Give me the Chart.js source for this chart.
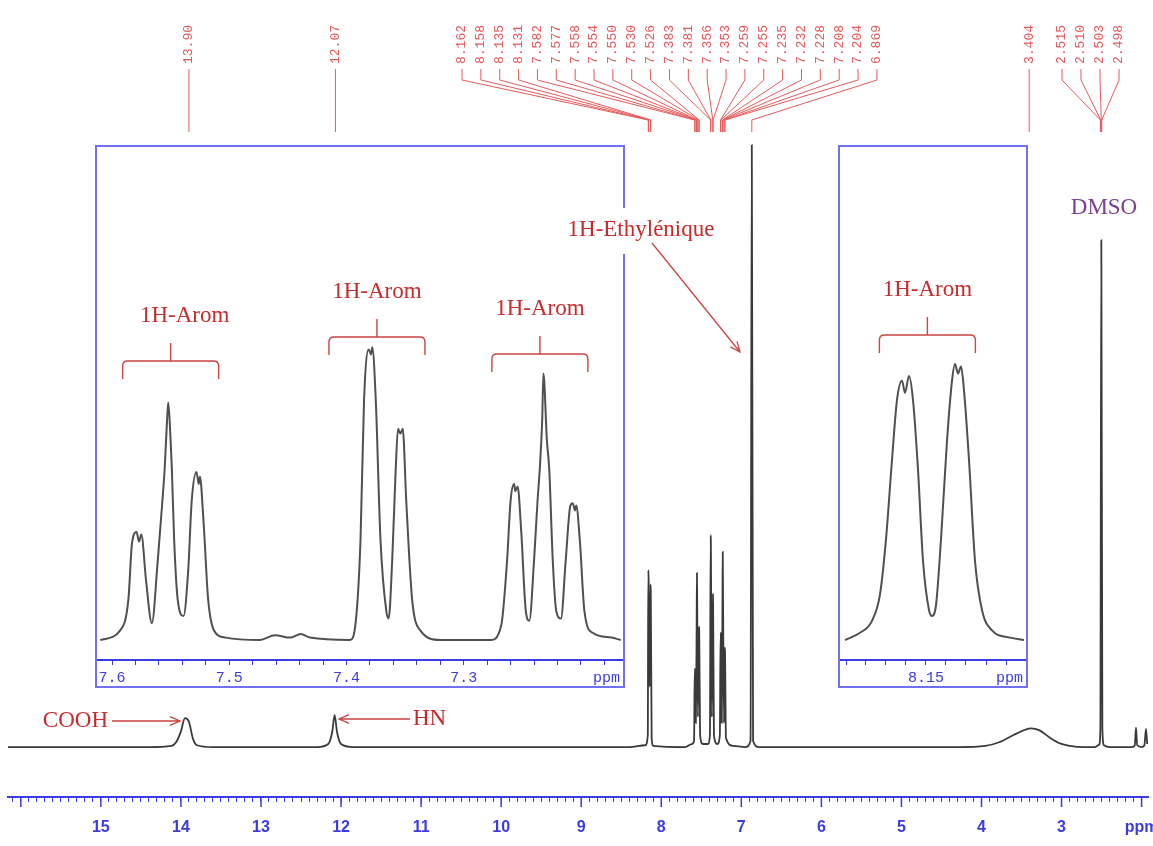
<!DOCTYPE html>
<html lang="fr">
<head>
<meta charset="UTF-8">
<title>Spectre RMN 1H</title>
<script src="https://cdn.jsdelivr.net/npm/chart.js"></script>
<style>
  body { margin: 0; background: #fff; }
  #wrap { position: relative; width: 1153px; height: 846px; }
  #wrap canvas { position: absolute; }
</style>
</head>
<body>
<div id="wrap">
  <canvas id="main" width="1153" height="846" style="left:0;top:0"></canvas>
  <canvas id="zoomA" width="526" height="539" style="left:97px;top:147px"></canvas>
  <canvas id="zoomB" width="186" height="539" style="left:840px;top:147px"></canvas>
</div>

<script>
// full spectrum, ppm / relative intensity
const mainPpm = [16.16, 14.40, 14.12, 14.06, 14.00, 13.95, 13.90, 13.85, 13.80, 13.60,
    12.30, 12.16, 12.11, 12.08, 12.05, 12.00, 11.85,
    8.40, 8.20, 8.168, 8.162, 8.158, 8.146, 8.135, 8.131, 8.12, 8.10,
    7.70, 7.62, 7.590, 7.582, 7.577, 7.568, 7.558, 7.554, 7.550, 7.542, 7.530, 7.526, 7.515, 7.48,
    7.42, 7.392, 7.383, 7.381, 7.368, 7.356, 7.353, 7.342, 7.30,
    7.268, 7.259, 7.255, 7.244, 7.235, 7.232, 7.228, 7.216, 7.208, 7.204, 7.192, 7.10,
    6.95, 6.885, 6.869, 6.853, 6.78,
    4.30, 3.95, 3.78, 3.60, 3.45, 3.38, 3.28, 3.15, 3.02, 2.90, 2.70,
    2.58, 2.53, 2.515, 2.503, 2.490, 2.47, 2.40,
    2.12, 2.085, 2.070, 2.055, 2.00, 1.965, 1.945, 1.93];
const mainInt = [0, 0, 0.2, 0.8, 2.6, 4.8, 4.2, 1.4, 0.3, 0,
    0, 0.5, 2.5, 5.3, 2.5, 0.5, 0,
    0, 0.3, 2, 29.4, 28, 10, 27, 26, 1.5, 0.2,
    0, 0.5, 1, 13, 12.5, 4, 20, 28.9, 21, 5, 20, 19.5, 2, 0.5,
    0.5, 2, 35.2, 34.5, 5, 25.5, 25, 2, 0.5,
    2, 19, 18.5, 4, 25, 32.4, 24, 4, 16.5, 16, 1.5, 0.2,
    0, 1, 100, 1, 0,
    0, 0.2, 0.8, 2, 2.9, 3.1, 2.8, 1.6, 0.6, 0.2, 0,
    0, 0.4, 3, 84.2, 3, 0.3, 0,
    0, 0.3, 3.2, 0.3, 0, 0.3, 3, 0.5];

// expansion 7.61 - 7.17 ppm
const zoomAPpm = [7.610, 7.593, 7.586, 7.583, 7.579, 7.577, 7.575, 7.571, 7.566, 7.561, 7.557, 7.555, 7.553,
    7.552, 7.550, 7.549, 7.547, 7.544, 7.539, 7.535, 7.532, 7.528, 7.526, 7.525, 7.522, 7.518, 7.513, 7.503,
    7.474, 7.461, 7.448, 7.439, 7.431, 7.397, 7.392, 7.388, 7.385, 7.381, 7.379, 7.378, 7.375, 7.371, 7.366,
    7.364, 7.361, 7.358, 7.356, 7.354, 7.352, 7.349, 7.344, 7.337, 7.320, 7.277, 7.268, 7.263, 7.260, 7.257,
    7.256, 7.254, 7.251, 7.247, 7.244, 7.240, 7.237, 7.235, 7.233, 7.232, 7.229, 7.227, 7.224, 7.221, 7.217,
    7.213, 7.209, 7.207, 7.205, 7.204, 7.201, 7.197, 7.190, 7.174, 7.166];
const zoomAInt = [0, 4, 17, 40, 45, 41, 44, 25, 7, 33, 58, 72, 92,
    99, 83, 72, 42, 17, 10, 29, 58, 70, 65, 68, 50, 17, 4, 1,
    0, 2, 1, 2.5, 1, 0, 8, 42, 100, 121, 119, 122, 100, 42, 12,
    9, 33, 71, 88, 86, 88, 58, 17, 4, 0, 0, 6, 33, 58, 65,
    62, 64, 46, 12, 8, 33, 58, 72, 92, 111, 83, 71, 33, 12, 9,
    33, 56, 57, 54, 56, 42, 12, 3, 1, 0];

// expansion 8.19 - 8.10 ppm
const zoomBPpm = [8.1905, 8.183, 8.177, 8.173, 8.170, 8.167, 8.1645, 8.162, 8.1605, 8.1585, 8.1565, 8.154,
    8.1515, 8.1485, 8.147, 8.145, 8.1425, 8.1395, 8.137, 8.1355, 8.134, 8.1325, 8.131, 8.1285, 8.1255,
    8.122, 8.117, 8.108, 8.101];
const zoomBInt = [0, 3, 8, 19, 42, 75, 100, 108, 103, 110, 100, 71,
    33, 12.5, 10, 14.5, 42, 83, 108, 115, 111, 114, 104, 75, 33,
    12.5, 4, 1, 0];

const ppmTicks = [15, 14, 13, 12, 11, 10, 9, 8, 7, 6, 5, 4, 3];
const zoomATicks = ['7.6', '7.5', '7.4', '7.3'];
const zoomBTicks = ['8.15'];

const singleShifts = ['13.90', '12.07', '3.404'];
const aromShifts = ['8.162', '8.158', '8.135', '8.131', '7.582', '7.577', '7.558', '7.554', '7.550',
    '7.530', '7.526', '7.383', '7.381', '7.356', '7.353', '7.259', '7.255', '7.235', '7.232',
    '7.228', '7.208', '7.204', '6.869'];
const dmsoShifts = ['2.515', '2.510', '2.503', '2.498'];

const BLUE = '#3b3be6';
const FRAME = '#7070f0';
const RED = '#c62c2c';
const PINK = '#e65a5a';
const LINE = '#3a3a3a';
const AXIS_FONT = { family: '"Liberation Sans"', size: 16, weight: 'bold', lineHeight: 3.25 };

function pts(xs, ys) {
    return xs.map((x, i) => ({ x: x, y: ys[i] }));
}

function arrow(ctx, x1, y1, x2, y2) {
    const a = Math.atan2(y2 - y1, x2 - x1), h = 11;
    ctx.beginPath();
    ctx.moveTo(x1, y1);
    ctx.lineTo(x2, y2);
    ctx.moveTo(x2 - h * Math.cos(a - 0.4), y2 - h * Math.sin(a - 0.4));
    ctx.lineTo(x2, y2);
    ctx.lineTo(x2 - h * Math.cos(a + 0.4), y2 - h * Math.sin(a + 0.4));
    ctx.stroke();
}

function shiftLabel(ctx, text, lx, x) {
    ctx.save();
    ctx.translate(lx, 64);
    ctx.rotate(-Math.PI / 2);
    ctx.fillText(text, 0, 0);
    ctx.restore();
    ctx.beginPath();
    if (Math.abs(lx - x) < 0.5) {
        ctx.moveTo(lx, 69);
        ctx.lineTo(lx, 132);
    } else {
        ctx.moveTo(lx, 69);
        ctx.lineTo(lx, 80);
        ctx.lineTo(x, 120);
        ctx.lineTo(x, 132);
    }
    ctx.stroke();
}

const mainDecor = {
    id: 'mainDecor',
    afterDraw(chart) {
        const ctx = chart.ctx;
        const xs = chart.scales.x;
        const px = v => xs.getPixelForValue(v);
        const bottom = chart.chartArea.bottom;
        ctx.save();

        // longer ticks on whole ppm, unit at the right end
        ctx.strokeStyle = BLUE;
        ctx.lineWidth = 1.5;
        for (let v = 2; v <= 16; v++) {
            ctx.beginPath();
            ctx.moveTo(px(v), bottom);
            ctx.lineTo(px(v), bottom + 10);
            ctx.stroke();
        }
        ctx.font = 'bold 16px "Liberation Sans"';
        ctx.fillStyle = BLUE;
        ctx.textAlign = 'center';
        ctx.textBaseline = 'middle';
        ctx.fillText('ppm', px(2), bottom + 5 + 26);

        // frames of the expansions
        ctx.strokeStyle = FRAME;
        ctx.lineWidth = 2;
        ctx.strokeRect(96, 146, 528, 541);
        ctx.strokeRect(839, 146, 188, 541);

        // chemical shift labels
        ctx.font = '13px "Liberation Mono"';
        ctx.fillStyle = PINK;
        ctx.strokeStyle = PINK;
        ctx.lineWidth = 1;
        ctx.textAlign = 'left';
        ctx.textBaseline = 'middle';
        singleShifts.forEach(s => shiftLabel(ctx, s, px(+s), px(+s)));
        aromShifts.forEach((s, i) => shiftLabel(ctx, s, 462 + i * 18.86, px(+s)));
        dmsoShifts.forEach((s, i) => shiftLabel(ctx, s, 1062 + i * 19, px(+s)));

        // annotations
        ctx.font = '23px "Liberation Serif"';
        ctx.textBaseline = 'middle';
        const eth = '1H-Ethylénique';
        const w = ctx.measureText(eth).width;
        ctx.fillStyle = '#fff';
        ctx.fillRect(641 - w / 2 - 4, 208, w + 8, 46);
        ctx.fillStyle = RED;
        ctx.textAlign = 'center';
        ctx.fillText(eth, 641, 230);

        ctx.fillStyle = '#7b3f8f';
        ctx.fillText('DMSO', 1104, 208);

        ctx.fillStyle = RED;
        ctx.textAlign = 'right';
        ctx.fillText('COOH', 108, 721);
        ctx.textAlign = 'left';
        ctx.fillText('HN', 413, 719);

        ctx.strokeStyle = '#cc4444';
        ctx.lineWidth = 1.3;
        arrow(ctx, 652, 243, 740, 352);
        arrow(ctx, 112, 721, 180, 721);
        arrow(ctx, 410, 719, 339, 719);
        ctx.restore();
    }
};

new Chart(document.getElementById('main'), {
    type: 'line',
    data: {
        datasets: [{
            data: pts(mainPpm, mainInt),
            borderColor: LINE,
            borderWidth: 1.8,
            pointRadius: 0,
            cubicInterpolationMode: 'monotone'
        }]
    },
    options: {
        responsive: false,
        animation: false,
        events: [],
        layout: { padding: { top: 133, left: 8, right: 5, bottom: 0 } },
        scales: {
            x: {
                type: 'linear',
                reverse: true,
                min: 1.92,
                max: 16.16,
                afterFit: s => { s.height = 49; },
                border: { color: BLUE, width: 2 },
                grid: { drawOnChartArea: false, color: BLUE, tickLength: 5 },
                ticks: {
                    stepSize: 0.1,
                    includeBounds: false,
                    autoSkip: false,
                    maxRotation: 0,
                    padding: 0,
                    color: BLUE,
                    font: AXIS_FONT,
                    callback: v => {
                        const r = Math.round(v);
                        if (Math.abs(v - r) > 1e-6) return '';
                        return ppmTicks.includes(r) ? String(r) : '';
                    }
                }
            },
            y: { display: false, min: -8.3, max: 102 }
        },
        plugins: { legend: { display: false }, tooltip: { enabled: false } }
    },
    plugins: [mainDecor]
});

function brace(ctx, cx, ty, hw) {
    const y = ty + 45;
    ctx.beginPath();
    ctx.moveTo(cx - hw, y + 18);
    ctx.lineTo(cx - hw, y + 5);
    ctx.quadraticCurveTo(cx - hw, y, cx - hw + 5, y);
    ctx.lineTo(cx + hw - 5, y);
    ctx.quadraticCurveTo(cx + hw, y, cx + hw, y + 5);
    ctx.lineTo(cx + hw, y + 18);
    ctx.moveTo(cx, y);
    ctx.lineTo(cx, ty + 27);
    ctx.stroke();
}

function zoomChart(id, ppm, inten, lo, hi, step, labels, groups) {
    const decor = {
        id: 'zoomDecor',
        afterDraw(chart) {
            const ctx = chart.ctx;
            const xs = chart.scales.x;
            const area = chart.chartArea;
            ctx.save();
            ctx.font = '15px "Liberation Mono"';
            ctx.fillStyle = BLUE;
            ctx.textAlign = 'right';
            ctx.textBaseline = 'middle';
            ctx.fillText('ppm', area.right - 3, area.bottom + 18);

            ctx.font = '23px "Liberation Serif"';
            ctx.fillStyle = RED;
            ctx.textAlign = 'center';
            ctx.strokeStyle = '#cc4444';
            ctx.lineWidth = 1.4;
            groups.forEach(g => {
                const cx = xs.getPixelForValue(g.at);
                ctx.fillText('1H-Arom', cx + (g.dx || 0), g.ty);
                brace(ctx, cx, g.ty, 48);
            });
            ctx.restore();
        }
    };
    return new Chart(document.getElementById(id), {
        type: 'line',
        data: {
            datasets: [{
                data: pts(ppm, inten),
                borderColor: '#505050',
                borderWidth: 2,
                pointRadius: 0,
                cubicInterpolationMode: 'monotone'
            }]
        },
        options: {
            responsive: false,
            animation: false,
            events: [],
            layout: { padding: 0 },
            scales: {
                x: {
                    type: 'linear',
                    reverse: true,
                    min: lo,
                    max: hi,
                    afterFit: s => { s.height = 26; },
                    border: { color: BLUE, width: 2 },
                    grid: { drawOnChartArea: false, color: BLUE, tickLength: 5 },
                    ticks: {
                        stepSize: step,
                        includeBounds: false,
                        autoSkip: false,
                        maxRotation: 0,
                        padding: 0,
                        color: BLUE,
                        font: { family: '"Liberation Mono"', size: 15, lineHeight: 1.73 },
                        callback: v => {
                            const hit = labels.find(t => Math.abs(+t - v) < 1e-6);
                            return hit || '';
                        }
                    }
                },
                y: { display: false, min: -8.33, max: 205.4 }
            },
            plugins: { legend: { display: false }, tooltip: { enabled: false } }
        },
        plugins: [decor]
    });
}

zoomChart('zoomA', zoomAPpm, zoomAInt, 7.1641, 7.6128, 0.02, zoomATicks, [
    { at: 7.550, ty: 169, dx: 14 },
    { at: 7.374, ty: 145 },
    { at: 7.235, ty: 162 }
]);
zoomChart('zoomB', zoomBPpm, zoomBInt, 8.10, 8.193, 0.01, zoomBTicks, [
    { at: 8.1493, ty: 143 }
]);
</script>
</body>
</html>
